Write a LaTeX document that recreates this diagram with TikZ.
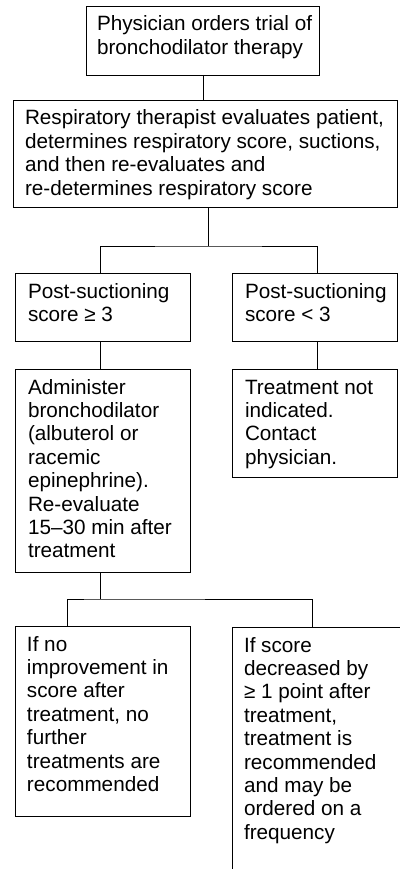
\documentclass[tikz,border=0pt]{standalone}
\usepackage{fontspec}
\setmainfont{Liberation Sans}
\tikzset{
  boxstyle/.style={draw=black, line width=0.8pt, rectangle, anchor=north west, inner ysep=5pt, outer sep=0pt},
  link/.style={draw=black, line width=0.8pt}
}
% name, x1, y1, x2, y2, left/right padding, text
\newcommand{\flowbox}[7]{%
  \node[boxstyle, inner xsep=#6pt,
        minimum width={(#4-#2)*1pt}, minimum height={(#5-#3)*1pt}] (#1) at (#2,-#3)
  {\makebox[\dimexpr #4pt-#2pt-#6pt-#6pt\relax][l]{%
   \parbox[t][\dimexpr #5pt-#3pt-10pt\relax][t]{600pt}{%
     \fontsize{20.7}{23.4}\selectfont\raggedright\rule{0pt}{20pt}#7}}};%
}
\begin{document}
\begin{tikzpicture}[x=1pt,y=1pt]
\useasboundingbox (0,0) rectangle (399,-869);
\flowbox{t}{86}{6}{319}{75}{11}{Physician orders trial of\\bronchodilator therapy}
\flowbox{r}{13}{100}{397.5}{207}{12}{Respiratory therapist evaluates patient,\\determines respiratory score, suctions,\\and then re-evaluates and\\re-determines respiratory score}
\flowbox{a}{15}{273}{190}{341}{13}{Post-suctioning\\score ≥ 3}
\flowbox{b}{232}{273}{397.5}{341}{13}{Post-suctioning\\score < 3}
\flowbox{c}{15}{369}{190}{572}{13}{Administer\\bronchodilator\\(albuterol or\\racemic\\epinephrine).\\Re-evaluate\\15–30 min after\\treatment}
\flowbox{d}{232}{369}{397.5}{477}{13}{Treatment not\\indicated.\\Contact\\physician.}
\flowbox{e}{15}{626}{190}{816}{12}{If no\\improvement in\\score after\\treatment, no\\further\\treatments are\\recommended}
\flowbox{f}{232}{627}{410}{880}{12}{If score\\decreased by\\≥ 1 point after\\treatment,\\treatment is\\recommended\\and may be\\ordered on a\\frequency}

\coordinate (j1) at ([xshift=195pt,yshift=-39pt]r.south west);
\coordinate (j2) at ([xshift=85pt,yshift=-27pt]c.south west);

\draw[link] ([xshift=117pt]t.south west) -- ([xshift=117pt]t.south west |- r.north);
\draw[link] ([xshift=195pt]r.south west) -- (j1);
\draw[link] ([xshift=85pt]a.north west) |- (j1) -| ([xshift=85pt]b.north west);
\draw[link] ([xshift=85pt]a.south west) -- ([xshift=85pt]c.north west);
\draw[link] ([xshift=85pt]b.south west) -- ([xshift=85pt]d.north west);
\draw[link] ([xshift=85pt]c.south west) -- (j2);
\draw[link] ([xshift=52pt]e.north west) |- (j2) -| ([xshift=80pt]f.north west);
\end{tikzpicture}
\end{document}
